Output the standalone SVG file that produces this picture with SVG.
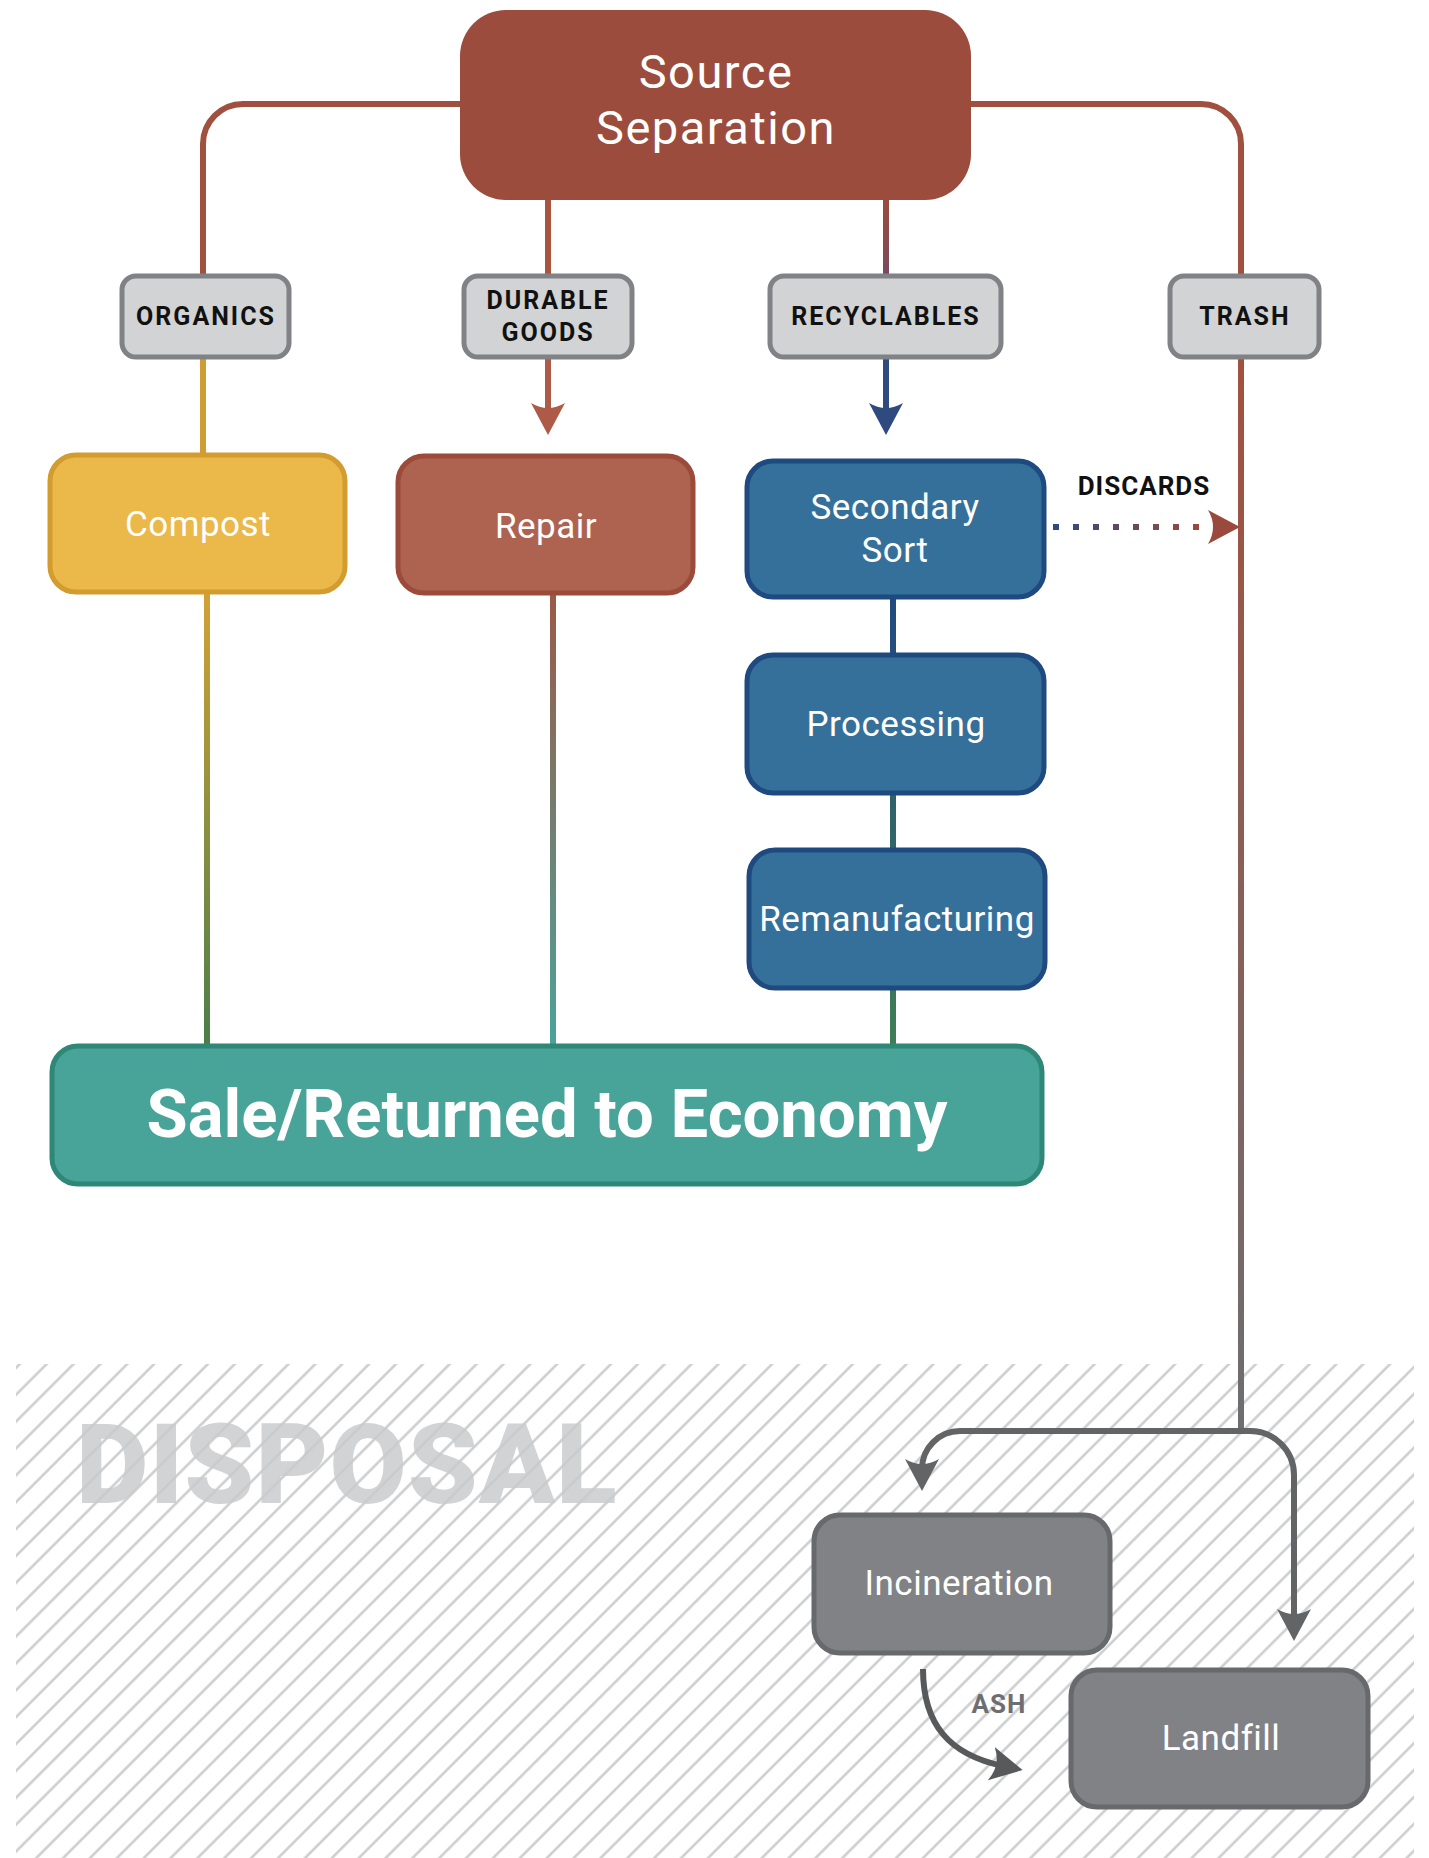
<svg xmlns="http://www.w3.org/2000/svg" width="1429" height="1858" viewBox="0 0 1429 1858">
<style>
.lbl rect{fill:#d1d3d4;stroke:#808285;stroke-width:5}
.lbl text{font-family:Roboto,"Liberation Sans",sans-serif;font-weight:700;font-size:25px;letter-spacing:2px;fill:#111;text-anchor:middle}
.node text{font-family:Roboto,"Liberation Sans",sans-serif;font-size:35px;fill:#fff;text-anchor:middle;letter-spacing:0.5px}
.node text.big{font-size:47px;letter-spacing:1.5px}
.node text.sale{font-size:67px;font-weight:700;letter-spacing:0}
.line{fill:none;stroke-width:6}
.edgelbl{font-family:Roboto,"Liberation Sans",sans-serif;font-weight:700;font-size:26px;letter-spacing:1px}
</style>
<defs>
<marker id="ah-red" viewBox="0 -18 34 36" markerWidth="34" markerHeight="36" refX="12" refY="0" markerUnits="userSpaceOnUse" orient="auto"><path d="M32,0 L0,-17 Q10,0 0,17 Z" fill="#ad5a46"/></marker>
<marker id="ah-blue" viewBox="0 -18 34 36" markerWidth="34" markerHeight="36" refX="12" refY="0" markerUnits="userSpaceOnUse" orient="auto"><path d="M32,0 L0,-17 Q10,0 0,17 Z" fill="#2e4a7f"/></marker>
<marker id="ah-disc" viewBox="0 -18 34 36" markerWidth="34" markerHeight="36" refX="12" refY="0" markerUnits="userSpaceOnUse" orient="auto"><path d="M32,0 L0,-17 Q10,0 0,17 Z" fill="#9a4a3c"/></marker>
<marker id="ah-gray" viewBox="0 -18 34 36" markerWidth="34" markerHeight="36" refX="12" refY="0" markerUnits="userSpaceOnUse" orient="auto"><path d="M32,0 L0,-17 Q10,0 0,17 Z" fill="#636466"/></marker>
<marker id="ah-dgray" viewBox="0 -18 34 36" markerWidth="34" markerHeight="36" refX="12" refY="0" markerUnits="userSpaceOnUse" orient="auto"><path d="M32,0 L0,-17 Q10,0 0,17 Z" fill="#58595b"/></marker>
<linearGradient id="g-compost" gradientUnits="userSpaceOnUse" x1="0" y1="593" x2="0" y2="1045"><stop offset="0" stop-color="#d2a135"/><stop offset="1" stop-color="#4a7f4a"/></linearGradient>
<linearGradient id="g-repair" gradientUnits="userSpaceOnUse" x1="0" y1="594" x2="0" y2="1045"><stop offset="0" stop-color="#9c5a46"/><stop offset="1" stop-color="#4aa39a"/></linearGradient>
<linearGradient id="g-recyc" gradientUnits="userSpaceOnUse" x1="0" y1="598" x2="0" y2="1045"><stop offset="0" stop-color="#1f4a80"/><stop offset="1" stop-color="#3e7e55"/></linearGradient>
<linearGradient id="g-trash" gradientUnits="userSpaceOnUse" x1="0" y1="358" x2="0" y2="1431"><stop offset="0" stop-color="#a3513f"/><stop offset="1" stop-color="#6d6e71"/></linearGradient>
<linearGradient id="g-recyctop" gradientUnits="userSpaceOnUse" x1="0" y1="200" x2="0" y2="275"><stop offset="0" stop-color="#9b4b3c"/><stop offset="1" stop-color="#7a4a5e"/></linearGradient>
<linearGradient id="g-disc" gradientUnits="userSpaceOnUse" x1="1053" y1="0" x2="1201" y2="0"><stop offset="0" stop-color="#2e4a7f"/><stop offset="1" stop-color="#9a4a3c"/></linearGradient>
<pattern id="hatch" patternUnits="userSpaceOnUse" width="19" height="19" patternTransform="rotate(45)"><line x1="9.5" y1="-1" x2="9.5" y2="20" stroke="#c9cacc" stroke-width="2.4"/></pattern>
</defs>
<rect width="1429" height="1858" fill="#fff"/>

<g id="disposal-zone">
<text x="76" y="1503" font-family="Roboto,'Liberation Sans',sans-serif" font-weight="900" font-size="112" letter-spacing="1" fill="#d1d3d4">DISPOSAL</text>
<rect x="16" y="1364" width="1398" height="494" fill="url(#hatch)"/>
</g>

<g id="connectors">
<path class="line" d="M460,104 H243 A40,40 0 0 0 203,144 V275" stroke="#a0503e"/>
<path class="line" d="M971,104 H1201 A40,40 0 0 1 1241,144 V275" stroke="#a0503e"/>
<path class="line" d="M548,200 V275" stroke="#a9543f"/>
<path class="line" d="M886,200 V275" stroke="url(#g-recyctop)"/>
<path class="line" d="M203,358 V454" stroke="#d09d33"/>
<path class="line" d="M548,358 V415" stroke="#ad5a46" marker-end="url(#ah-red)"/>
<path class="line" d="M886,358 V415" stroke="#2e4a7f" marker-end="url(#ah-blue)"/>
<path class="line" d="M1241,358 V1431" stroke="url(#g-trash)"/>
<path class="line" d="M207,593 V1045" stroke="url(#g-compost)"/>
<path class="line" d="M553,594 V1045" stroke="url(#g-repair)"/>
<path class="line" d="M893,598 V1045" stroke="url(#g-recyc)"/>
<path class="line" d="M1053,527 H1201" stroke="url(#g-disc)" stroke-dasharray="6 14"/>
<path d="M1214,527 H1220" fill="none" stroke="none" marker-end="url(#ah-disc)"/>
<text class="edgelbl" x="1144" y="495" text-anchor="middle" fill="#111">DISCARDS</text>
<path class="line" d="M1241,1431 H960 A38,38 0 0 0 922,1469 V1471" stroke="#636466" marker-end="url(#ah-gray)"/>
<path class="line" d="M1241,1431 H1250 A44,44 0 0 1 1294,1475 V1621" stroke="#636466" marker-end="url(#ah-gray)"/>
<path class="line" d="M923,1669 C923,1725 950,1755 1003,1766" stroke="#58595b" marker-end="url(#ah-dgray)"/>
<text class="edgelbl" x="999" y="1713" text-anchor="middle" fill="#6d6e71">ASH</text>
</g>

<g id="source-separation" class="node">
<rect x="460" y="10" width="511" height="190" rx="46" fill="#9b4c3c"/>
<text class="big"><tspan x="716" y="88">Source</tspan><tspan x="716" y="144">Separation</tspan></text>
</g>

<g id="organics" class="lbl"><rect x="122" y="276" width="167" height="81" rx="14"/><text x="206" y="325">ORGANICS</text></g>
<g id="durable-goods" class="lbl"><rect x="464" y="276" width="168" height="81" rx="14"/><text><tspan x="548" y="309">DURABLE</tspan><tspan x="548" y="341">GOODS</tspan></text></g>
<g id="recyclables" class="lbl"><rect x="770" y="276" width="231" height="81" rx="14"/><text x="886" y="325">RECYCLABLES</text></g>
<g id="trash" class="lbl"><rect x="1170" y="276" width="149" height="81" rx="14"/><text x="1245" y="325">TRASH</text></g>

<g id="compost" class="node"><rect x="50" y="455" width="295" height="137" rx="26" fill="#ebb84a" stroke="#d39c2e" stroke-width="5"/><text x="198" y="536">Compost</text></g>
<g id="repair" class="node"><rect x="398" y="456" width="295" height="137" rx="26" fill="#ad6350" stroke="#9c4b3a" stroke-width="5"/><text x="546" y="538">Repair</text></g>
<g id="secondary-sort" class="node"><rect x="747" y="461" width="297" height="136" rx="26" fill="#35709b" stroke="#1f4a80" stroke-width="5"/><text><tspan x="895" y="519">Secondary</tspan><tspan x="895" y="562">Sort</tspan></text></g>
<g id="processing" class="node"><rect x="747" y="655" width="297" height="138" rx="26" fill="#35709b" stroke="#1f4a80" stroke-width="5"/><text x="896" y="736">Processing</text></g>
<g id="remanufacturing" class="node"><rect x="749" y="850" width="296" height="138" rx="26" fill="#35709b" stroke="#1f4a80" stroke-width="5"/><text x="897" y="931">Remanufacturing</text></g>
<g id="sale" class="node"><rect x="52" y="1046" width="990" height="138" rx="26" fill="#48a399" stroke="#2f8877" stroke-width="5"/><text class="sale" x="547" y="1137">Sale/Returned to Economy</text></g>
<g id="incineration" class="node"><rect x="814" y="1515" width="296" height="138" rx="26" fill="#808285" stroke="#68696c" stroke-width="5"/><text x="959" y="1595">Incineration</text></g>
<g id="landfill" class="node"><rect x="1071" y="1670" width="297" height="137" rx="26" fill="#808285" stroke="#68696c" stroke-width="5"/><text x="1221" y="1750">Landfill</text></g>
</svg>
